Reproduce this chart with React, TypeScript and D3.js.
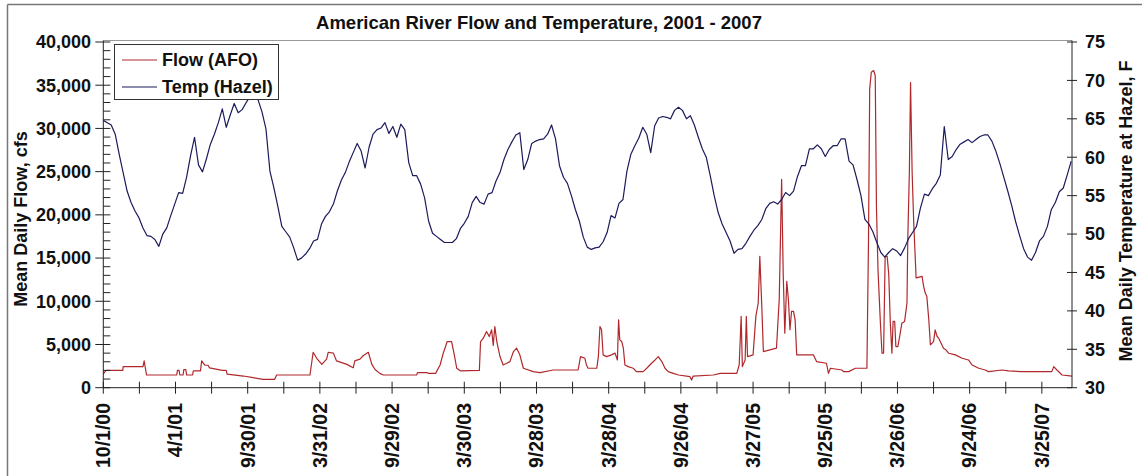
import React from "react";
import * as d3 from "d3";

const W = 1142;
const H = 476;

const chartTitle = "American River Flow and Temperature, 2001 - 2007";
const leftAxisTitle = "Mean Daily Flow, cfs";
const rightAxisTitle = "Mean Daily Temperature at Hazel, F";
const seriesNames = ["Flow (AFO)", "Temp (Hazel)"];
const seriesColors = ["#b0282c", "#1b1b5c"];

const xDomain = ["2000-10-01", "2007-06-09"];
const xLabelDates = [
  "2000-10-01", "2001-04-01", "2001-09-30", "2002-03-31", "2002-09-29",
  "2003-03-30", "2003-09-28", "2004-03-28", "2004-09-26", "2005-03-27",
  "2005-09-25", "2006-03-26", "2006-09-24", "2007-03-25",
];
const flowTicks = [0, 5000, 10000, 15000, 20000, 25000, 30000, 35000, 40000];
const tempTicks = [30, 35, 40, 45, 50, 55, 60, 65, 70, 75];

// Temperature at Hazel, read every 10 days from 10/1/2000
const tempStart = "2000-10-01";
const tempStepDays = 10;
const tempValues = [
  64.8, 64.5, 64.2, 63.0, 60.4, 58.0, 55.6, 54.1, 53.0, 52.1,
  50.8, 49.8, 49.7, 49.3, 48.4, 50.0, 50.8, 52.4, 53.9, 55.4,
  55.3, 57.4, 60.2, 62.6, 59.0, 58.1, 59.8, 61.7, 63.0, 64.5,
  66.3, 63.9, 65.5, 67.0, 65.8, 66.2, 67.1, 67.9, 68.3, 67.5,
  65.9, 63.7, 58.2, 56.0, 53.6, 51.0, 50.3, 49.6, 48.2, 46.6,
  46.9, 47.4, 48.1, 49.1, 49.3, 51.3, 52.3, 52.9, 53.9, 55.6,
  57.0, 58.0, 59.4, 60.6, 61.8, 60.8, 58.6, 61.3, 63.0, 63.6,
  63.8, 64.5, 63.1, 64.0, 62.6, 64.3, 63.6, 59.3, 57.6, 57.6,
  56.5, 54.7, 51.7, 50.1, 49.7, 49.3, 48.9, 48.9, 48.9, 49.4,
  50.7, 51.4, 52.3, 54.1, 54.9, 54.1, 53.9, 55.2, 55.4, 56.9,
  58.0, 59.7, 61.0, 62.0, 62.9, 63.2, 58.4, 59.7, 61.8, 62.1,
  62.3, 62.4, 63.0, 64.2, 62.4, 58.9, 57.4, 56.6, 55.0, 53.2,
  51.7, 49.6, 48.3, 48.0, 48.2, 48.3, 49.0, 50.2, 52.4, 52.1,
  54.0, 54.5, 58.2, 60.4, 61.5, 62.5, 63.9, 63.0, 60.6, 64.1,
  65.1, 65.3, 65.2, 65.0, 66.1, 66.5, 66.1, 65.0, 65.4, 64.2,
  62.6, 61.1, 60.0, 57.6, 55.0, 52.8, 51.3, 50.2, 49.1, 47.5,
  48.0, 48.1, 48.8, 49.7, 50.5, 51.1, 51.9, 53.3, 54.0, 54.2,
  53.9, 54.5, 55.4, 55.0, 55.6, 57.5, 58.9, 58.9, 61.1, 61.1,
  61.6, 61.1, 60.1, 61.0, 61.5, 61.5, 62.4, 62.4, 59.5, 59.0,
  57.1, 55.0, 51.9, 51.3, 50.3, 48.9, 47.6, 47.0, 47.6, 48.1,
  47.8, 47.2, 48.2, 49.4, 50.2, 51.0, 53.4, 55.2, 55.0, 55.9,
  56.6, 57.7, 64.0, 59.7, 60.1, 61.0, 61.7, 62.0, 62.3, 61.9,
  62.3, 62.7, 62.9, 62.9, 62.1, 60.8, 59.2, 57.4, 55.6, 53.7,
  51.6, 49.8, 48.1, 47.0, 46.6, 47.6, 49.1, 49.7, 51.0, 53.2,
  54.1, 55.5, 56.0, 57.7, 59.5,
];

// Flow at AFO (cfs), read at the breakpoints of the trace
const flowDates = [
  "2000-10-01", "2000-10-08", "2000-11-19", "2000-11-20", "2001-01-09", "2001-01-12", "2001-01-18",
  "2001-04-04", "2001-04-06", "2001-04-10", "2001-04-12", "2001-04-20", "2001-04-22", "2001-04-27",
  "2001-04-29", "2001-05-14", "2001-05-16", "2001-06-03", "2001-06-06", "2001-06-14", "2001-06-22",
  "2001-06-26", "2001-07-28", "2001-08-07", "2001-08-09", "2001-09-19", "2001-10-14", "2001-11-08",
  "2001-12-07", "2001-12-12", "2002-03-06", "2002-03-14", "2002-03-23", "2002-04-05", "2002-04-17",
  "2002-04-21", "2002-05-04", "2002-05-12", "2002-06-07", "2002-06-23", "2002-06-27", "2002-07-10",
  "2002-07-18", "2002-07-31", "2002-08-09", "2002-08-17", "2002-08-29", "2002-09-07", "2002-11-30",
  "2002-12-02", "2002-12-27", "2002-12-29", "2003-01-17", "2003-01-19", "2003-01-28", "2003-02-05",
  "2003-02-15", "2003-02-26", "2003-03-04", "2003-03-11", "2003-03-20", "2003-05-07", "2003-05-10",
  "2003-05-17", "2003-05-25", "2003-06-01", "2003-06-07", "2003-06-11", "2003-06-15", "2003-06-20",
  "2003-06-28", "2003-07-06", "2003-07-15", "2003-07-23", "2003-08-01", "2003-08-09", "2003-08-17",
  "2003-08-26", "2003-09-20", "2003-10-07", "2003-11-09", "2004-01-11", "2004-01-17", "2004-01-28",
  "2004-02-01", "2004-02-05", "2004-02-27", "2004-03-02", "2004-03-06", "2004-03-10", "2004-03-14",
  "2004-03-23", "2004-04-04", "2004-04-13", "2004-04-19", "2004-04-22", "2004-04-25", "2004-04-30",
  "2004-05-04", "2004-05-08", "2004-05-16", "2004-05-29", "2004-06-06", "2004-06-23", "2004-07-02",
  "2004-07-14", "2004-07-23", "2004-07-31", "2004-08-09", "2004-08-17", "2004-08-25", "2004-09-07",
  "2004-09-20", "2004-10-19", "2004-10-23", "2004-10-27", "2004-12-17", "2005-01-03", "2005-02-14",
  "2005-02-20", "2005-02-25", "2005-02-28", "2005-03-07", "2005-03-10", "2005-03-13", "2005-03-27",
  "2005-04-03", "2005-04-09", "2005-04-13", "2005-04-18", "2005-04-22", "2005-05-25", "2005-06-01",
  "2005-06-07", "2005-06-11", "2005-06-15", "2005-06-20", "2005-06-24", "2005-06-28", "2005-07-02",
  "2005-07-07", "2005-07-11", "2005-07-15", "2005-08-26", "2005-09-03", "2005-09-28", "2005-10-03",
  "2005-10-08", "2005-11-06", "2005-11-10", "2005-11-23", "2005-12-10", "2006-01-08", "2006-01-12",
  "2006-01-15", "2006-01-19", "2006-01-25", "2006-01-29", "2006-02-01", "2006-02-05", "2006-02-11",
  "2006-02-15", "2006-02-19", "2006-02-23", "2006-02-28", "2006-03-04", "2006-03-08", "2006-03-12",
  "2006-03-15", "2006-03-19", "2006-03-22", "2006-03-27", "2006-04-02", "2006-04-06", "2006-04-13",
  "2006-04-19", "2006-04-21", "2006-04-25", "2006-04-28", "2006-05-02", "2006-05-06", "2006-05-12",
  "2006-05-27", "2006-05-31", "2006-06-04", "2006-06-08", "2006-06-13", "2006-06-17", "2006-06-25",
  "2006-06-29", "2006-07-04", "2006-07-08", "2006-07-14", "2006-07-20", "2006-07-26", "2006-08-02",
  "2006-08-19", "2006-09-05", "2006-09-21", "2006-09-30", "2006-10-17", "2006-11-02", "2006-11-11",
  "2006-12-14", "2006-12-31", "2007-02-03", "2007-04-19", "2007-04-24", "2007-05-02", "2007-05-15",
  "2007-06-09",
];
const flowValues = [
  1600, 2000, 2000, 2440, 2440, 3100, 1470,
  1470, 2000, 2000, 1470, 1470, 2100, 2100,
  1470, 1470, 1940, 1940, 3100, 2600, 2600,
  2300, 2000, 2000, 1580, 1350, 1160, 970,
  970, 1470, 1470, 4100, 3400, 2700, 3300,
  4100, 4000, 3100, 2700, 2300, 3100, 3300,
  3700, 4100, 2700, 2100, 1660, 1470, 1470,
  1750, 1750, 1660, 1660, 1860, 2630, 3990,
  5340, 5340, 3990, 2250, 1950, 2000, 5340,
  5730, 6500, 5920, 6700, 4900, 7080, 5340,
  3600, 2630, 2830, 3020, 4180, 4570, 3800,
  2250, 1860, 1750, 2050, 2050, 3600, 3400,
  2630, 2250, 2250, 3600, 7080, 6700, 3800,
  3600, 3800, 4000, 3210, 7860, 5530, 5340,
  4570, 2630, 2440, 2250, 1860, 1860, 2250,
  2830, 3210, 3600, 3020, 2250, 1860, 1660,
  1470, 1280, 890, 1350, 1470, 1660, 1660,
  2630, 8250, 2440, 3210, 8250, 3600, 3800,
  8250, 9800, 15200, 9400, 4180, 4570, 10250,
  24100, 13160, 6300, 12300, 10250, 6700, 8830,
  8830, 7860, 3800, 3800, 3020, 2830, 1660,
  2250, 2050, 1860, 1860, 2250, 2250, 17150,
  34570, 36500, 36700, 36100, 21000, 13550, 7470,
  3990, 3990, 15200, 15200, 13160, 7470, 3990,
  7670, 7670, 4760, 4760, 6300, 7470, 7670,
  9800, 17150, 24900, 35300, 24900, 19120, 12700,
  12890, 11730, 10950, 10570, 7860, 4960, 5340,
  6700, 5920, 5730, 5150, 4570, 4380, 3990,
  3800, 3410, 3210, 2630, 2250, 2050, 1860,
  2050, 1940, 1860, 1860, 2440, 2050, 1470,
  1350,
];

const FONT = "'Liberation Sans', Arial, Helvetica, sans-serif";

export default function App() {
  const parse = d3.timeParse("%Y-%m-%d");
  const plotL = 103.3;
  const plotR = 1072;
  const plotB = 387.7;
  const plotT = 42;

  const x = d3
    .scaleTime()
    .domain(xDomain.map((s) => parse(s) as Date))
    .range([plotL, plotR]);
  const yF = d3.scaleLinear().domain([0, 40000]).range([plotB, plotT]);
  const yT = d3.scaleLinear().domain([30, 75]).range([plotB, plotT]);

  const start = parse(tempStart) as Date;
  const tempData = tempValues.map((v, i) => ({
    date: d3.timeDay.offset(start, i * tempStepDays),
    v,
  }));
  const flowData = flowDates.map((d, i) => ({ date: parse(d) as Date, v: flowValues[i] }));

  const flowPath =
    d3
      .line<{ date: Date; v: number }>()
      .x((d) => x(d.date))
      .y((d) => yF(d.v))(flowData) || "";
  const tempPath =
    d3
      .line<{ date: Date; v: number }>()
      .x((d) => x(d.date))
      .y((d) => yT(d.v))(tempData) || "";

  const fmt = d3.timeFormat("%-m/%-d/%y");
  const endDate = parse(xDomain[1]) as Date;
  const labelDates = xLabelDates.map((s) => parse(s) as Date);
  const minorDates = labelDates
    .map((d) => d3.timeDay.offset(d, 91))
    .filter((d) => d <= endDate);
  const flowMinor = d3.range(0, 40001, 1000).filter((v) => v % 5000 !== 0);

  const axisColor = "#222";
  const bold = { fontFamily: FONT, fontWeight: 700 as const };

  return (
    <svg
      width={W}
      height={H}
      style={{ position: "absolute", left: 0, top: 0, background: "#fff" }}
    >
      <rect x={0} y={0} width={W} height={H} fill="#fff" />
      {/* outer frame (top and left edges visible) */}
      <line x1={7.5} x2={W} y1={4.5} y2={4.5} stroke="#777" strokeWidth={1.5} />
      <line x1={7.5} x2={7.5} y1={4.5} y2={H} stroke="#777" strokeWidth={1.5} />

      {/* title */}
      <text x={539} y={23} dy="0.35em" textAnchor="middle" fontSize={18.5} {...bold} fill="#111">
        {chartTitle}
      </text>

      {/* plot area top border */}
      <line x1={plotL} x2={plotR} y1={40.5} y2={40.5} stroke="#999" strokeWidth={1} />

      {/* series */}
      <path d={flowPath} fill="none" stroke={seriesColors[0]} strokeWidth={1.2} strokeLinejoin="round" />
      <path d={tempPath} fill="none" stroke={seriesColors[1]} strokeWidth={1.2} strokeLinejoin="round" />

      {/* left axis */}
      <line x1={plotL} x2={plotL} y1={40.5} y2={plotB} stroke={axisColor} strokeWidth={1} />
      {flowMinor.map((v) => (
        <line key={"fm" + v} x1={plotL} x2={plotL + 7} y1={yF(v)} y2={yF(v)} stroke={axisColor} strokeWidth={1} />
      ))}
      {flowTicks.map((v) => (
        <g key={"ft" + v}>
          <line x1={plotL - 8} x2={plotL + 7} y1={yF(v)} y2={yF(v)} stroke={axisColor} strokeWidth={1} />
          <text x={91} y={yF(v)} dy="0.35em" textAnchor="end" fontSize={18} {...bold} fill="#111">
            {d3.format(",")(v)}
          </text>
        </g>
      ))}

      {/* right axis */}
      <line x1={plotR} x2={plotR} y1={40.5} y2={plotB} stroke={axisColor} strokeWidth={1} />
      {tempTicks.map((v) => (
        <g key={"tt" + v}>
          <line x1={plotR - 5} x2={plotR + 5} y1={yT(v)} y2={yT(v)} stroke={axisColor} strokeWidth={1} />
          <text x={1085} y={yT(v)} dy="0.35em" textAnchor="start" fontSize={18} {...bold} fill="#111">
            {v}
          </text>
        </g>
      ))}

      {/* bottom axis */}
      <line x1={plotL} x2={plotR} y1={plotB} y2={plotB} stroke={axisColor} strokeWidth={1} />
      {minorDates.map((d, i) => (
        <line key={"xm" + i} x1={x(d)} x2={x(d)} y1={plotB - 6} y2={plotB + 6} stroke={axisColor} strokeWidth={1} />
      ))}
      {labelDates.map((d, i) => (
        <g key={"xl" + i}>
          <line x1={x(d)} x2={x(d)} y1={plotB - 6} y2={plotB + 6} stroke={axisColor} strokeWidth={1} />
          <text
            transform={`translate(${x(d)},403) rotate(-90)`}
            dy="0.35em"
            textAnchor="end"
            fontSize={19.5}
            {...bold}
            fill="#111"
          >
            {fmt(d)}
          </text>
        </g>
      ))}

      {/* axis titles */}
      <text transform="translate(21,219) rotate(-90)" dy="0.35em" textAnchor="middle" fontSize={18} {...bold} fill="#111">
        {leftAxisTitle}
      </text>
      <text transform="translate(1126,211) rotate(-90)" dy="0.35em" textAnchor="middle" fontSize={18} {...bold} fill="#111">
        {rightAxisTitle}
      </text>

      {/* legend */}
      <rect x={114.5} y={44.5} width={164} height={55} fill="#fff" stroke="#333" strokeWidth={1} />
      {seriesNames.map((name, i) => (
        <g key={name}>
          <line x1={122} x2={157} y1={60 + i * 27} y2={60 + i * 27} stroke={seriesColors[i]} strokeWidth={1.2} />
          <text x={162} y={60 + i * 27} dy="0.35em" fontSize={18} {...bold} fill="#111">
            {name}
          </text>
        </g>
      ))}
    </svg>
  );
}
